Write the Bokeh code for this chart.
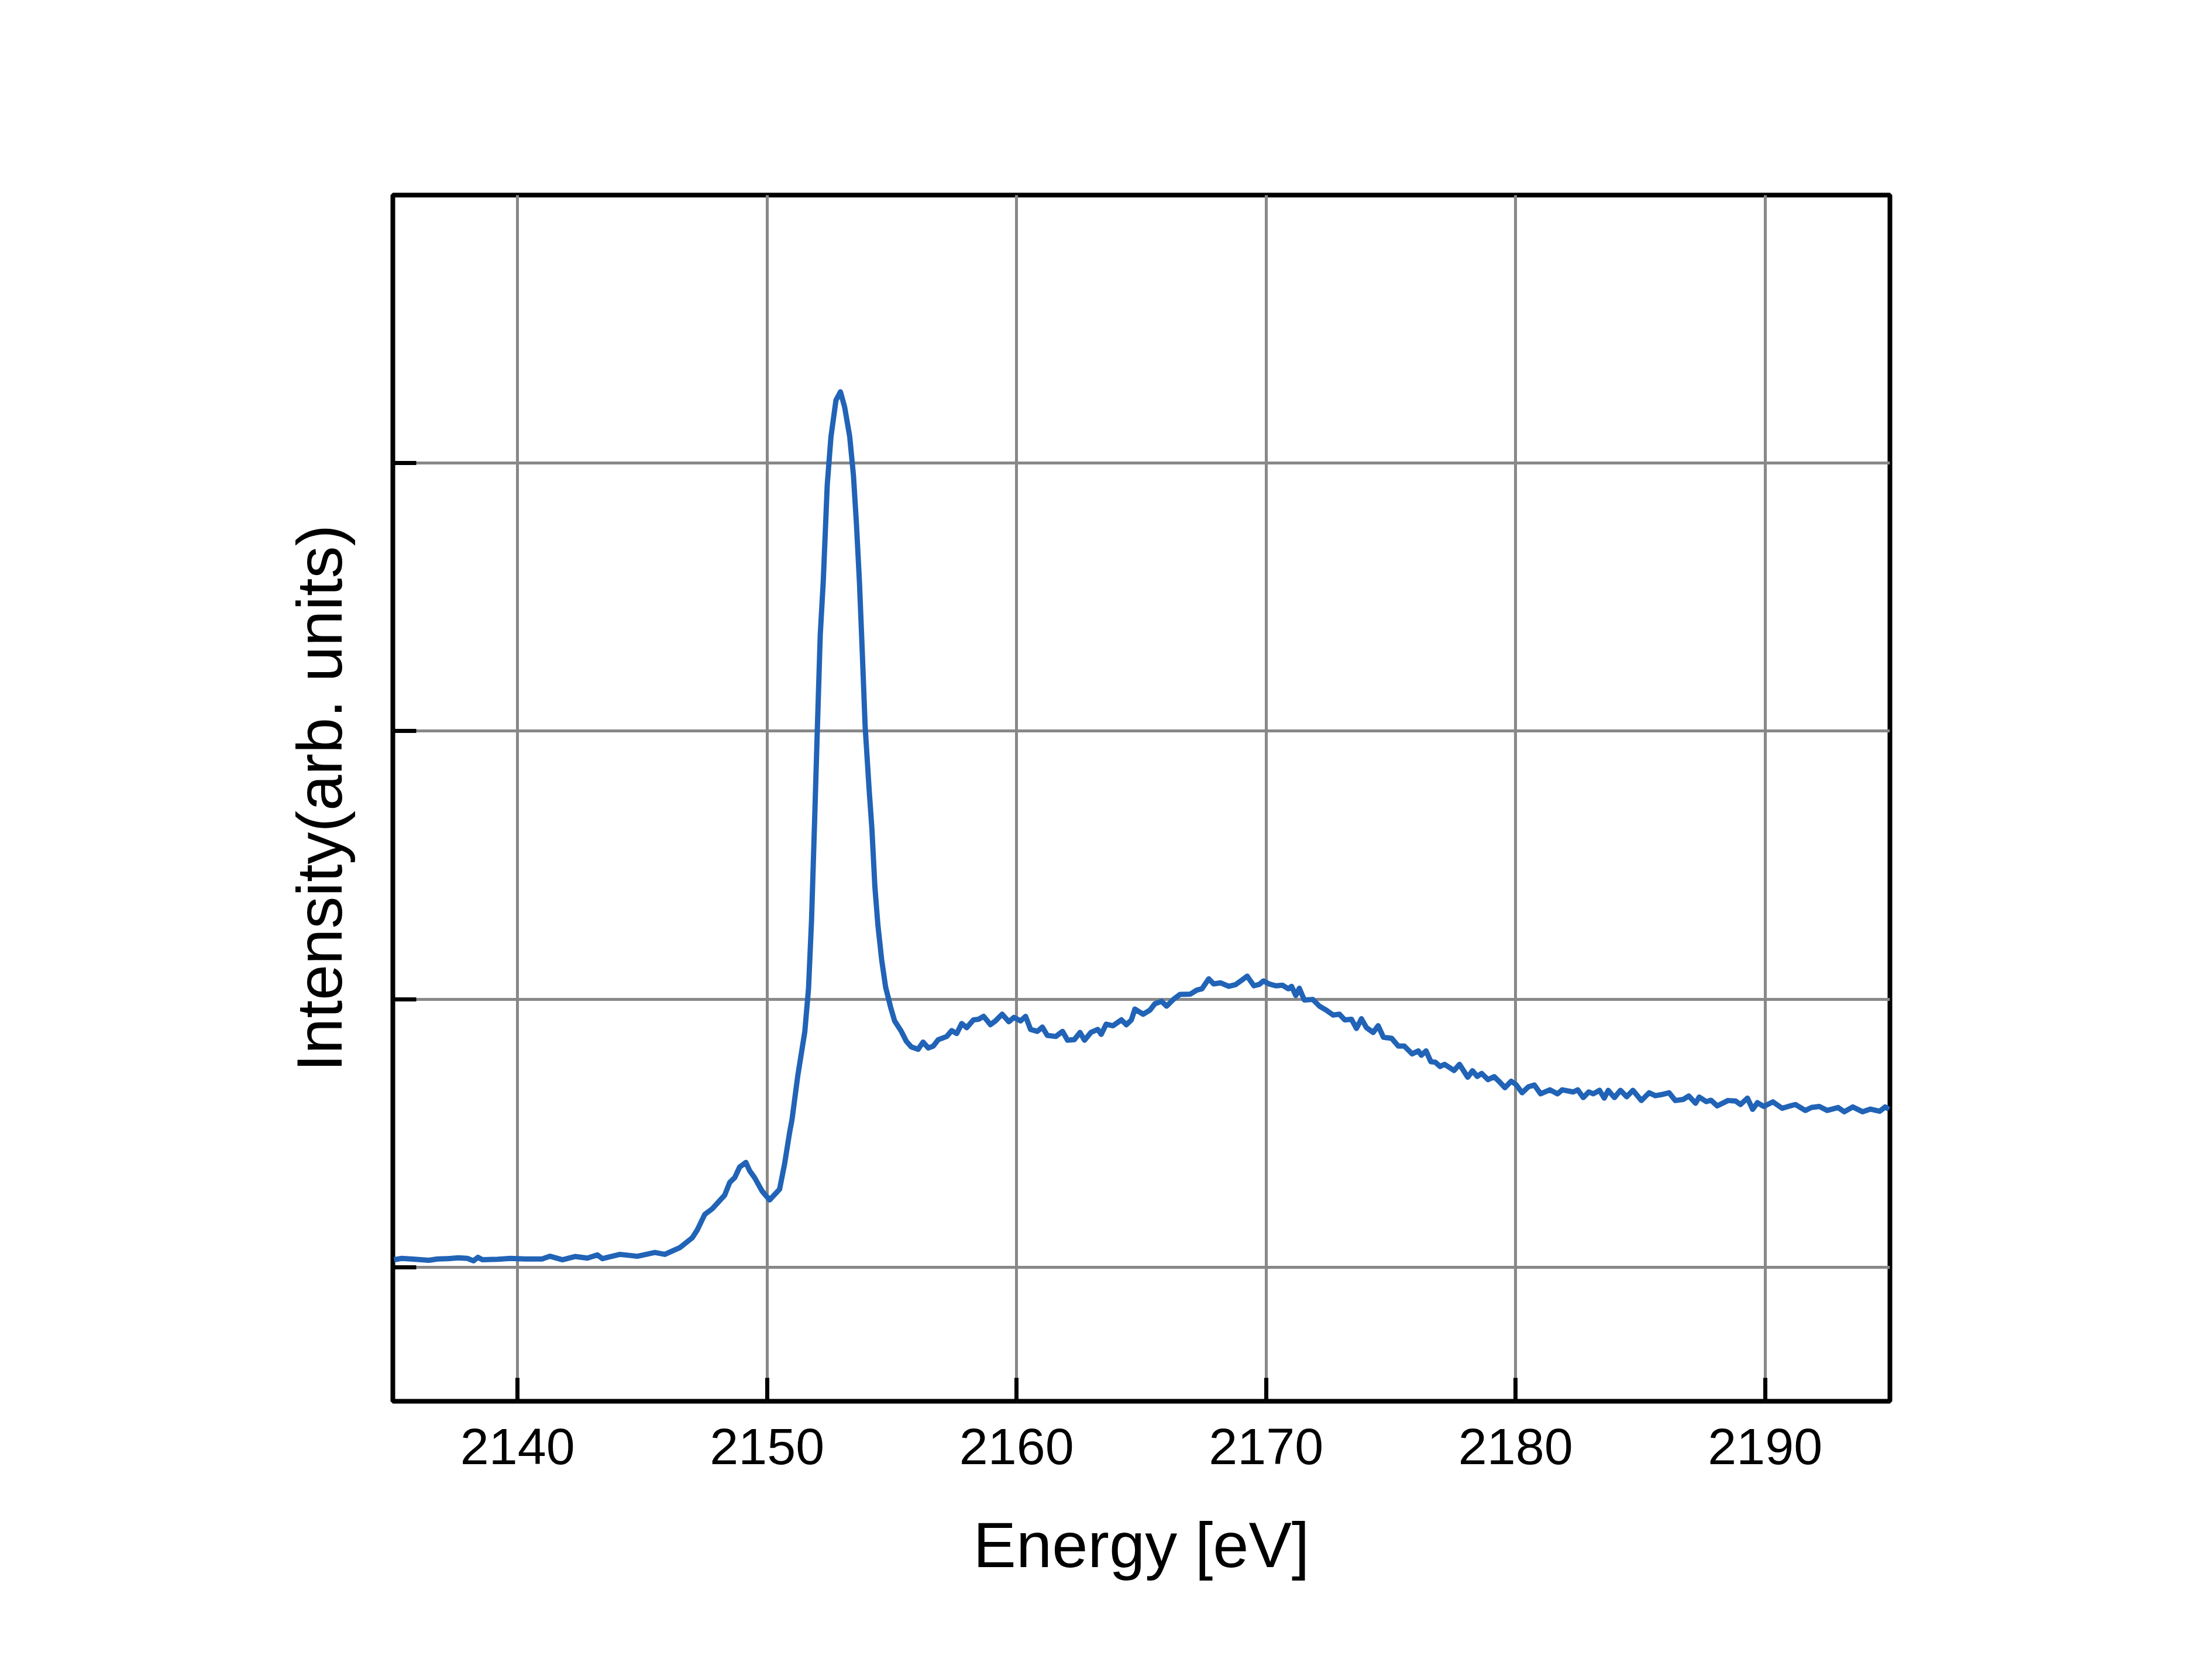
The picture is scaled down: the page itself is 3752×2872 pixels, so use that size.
from bokeh.plotting import figure
from bokeh.models import ColumnDataSource, Range1d, FixedTicker
from bokeh.embed import file_html
from bokeh.resources import INLINE

energy = [
    2135.05, 2135.36, 2135.9, 2136.44, 2136.79, 2137.2, 2137.63, 2137.99, 2138.23, 2138.41,
    2138.59, 2139.2, 2139.72, 2140.3, 2140.98, 2141.3, 2141.8, 2142.3, 2142.8, 2143.2,
    2143.4, 2144.1, 2144.8, 2145.5, 2145.9, 2146.5, 2147.0, 2147.2, 2147.5, 2147.8,
    2148.3, 2148.5, 2148.7, 2148.9, 2149.15, 2149.3, 2149.5, 2149.8, 2150.1, 2150.5,
    2150.7, 2150.9, 2151.0, 2151.23, 2151.51, 2151.66, 2151.78, 2151.90, 2152.01, 2152.13,
    2152.25, 2152.37, 2152.41, 2152.56, 2152.76, 2152.94, 2153.11, 2153.31, 2153.46, 2153.58,
    2153.70, 2153.81, 2153.93, 2154.09, 2154.20, 2154.32, 2154.44, 2154.59, 2154.75, 2154.95,
    2155.11, 2155.38, 2155.58, 2155.78, 2156.05, 2156.25, 2156.46, 2156.66, 2156.86, 2157.20,
    2157.40, 2157.60, 2157.80, 2158.00, 2158.27, 2158.47, 2158.68, 2158.95, 2159.15, 2159.42,
    2159.69, 2159.89, 2160.16, 2160.36, 2160.56, 2160.83, 2161.03, 2161.23, 2161.57, 2161.84,
    2162.04, 2162.31, 2162.54, 2162.72, 2162.98, 2163.25, 2163.39, 2163.59, 2163.86, 2164.20,
    2164.40, 2164.60, 2164.74, 2165.07, 2165.34, 2165.54, 2165.81, 2166.01, 2166.28, 2166.55,
    2166.96, 2167.22, 2167.43, 2167.70, 2167.90, 2168.17, 2168.50, 2168.77, 2169.04, 2169.24,
    2169.51, 2169.72, 2169.89, 2170.12, 2170.39, 2170.66, 2170.89, 2171.02, 2171.19, 2171.33,
    2171.53, 2171.87, 2172.14, 2172.41, 2172.68, 2172.94, 2173.15, 2173.42, 2173.62, 2173.82,
    2174.02, 2174.29, 2174.49, 2174.70, 2175.03, 2175.30, 2175.54, 2175.85, 2176.10, 2176.22,
    2176.41, 2176.60, 2176.78, 2176.97, 2177.15, 2177.53, 2177.75, 2178.08, 2178.27, 2178.46,
    2178.64, 2178.89, 2179.14, 2179.33, 2179.57, 2179.82, 2180.01, 2180.26, 2180.51, 2180.75,
    2181.00, 2181.37, 2181.68, 2181.87, 2182.31, 2182.49, 2182.71, 2182.93, 2183.11, 2183.36,
    2183.55, 2183.71, 2183.96, 2184.20, 2184.45, 2184.70, 2185.04, 2185.35, 2185.60, 2185.84,
    2186.15, 2186.40, 2186.71, 2186.94, 2187.21, 2187.36, 2187.64, 2187.83, 2188.08, 2188.51,
    2188.82, 2189.01, 2189.29, 2189.50, 2189.69, 2189.94, 2190.31, 2190.68, 2190.93, 2191.21,
    2191.61, 2191.86, 2192.17, 2192.48, 2192.92, 2193.17, 2193.51, 2193.91, 2194.22, 2194.59,
    2194.81, 2194.97,
]

intensity = [
    0.028, 0.033, 0.030, 0.026, 0.031, 0.032, 0.035, 0.033, 0.024, 0.037,
    0.028, 0.030, 0.033, 0.031, 0.031, 0.041, 0.028, 0.040, 0.034, 0.046,
    0.032, 0.048, 0.041, 0.055, 0.048, 0.073, 0.110, 0.139, 0.197, 0.218,
    0.269, 0.316, 0.334, 0.374, 0.391, 0.360, 0.334, 0.284, 0.251, 0.291,
    0.385, 0.502, 0.552, 0.715, 0.878, 1.040, 1.293, 1.654, 1.998, 2.360,
    2.558, 2.828, 2.919, 3.099, 3.235, 3.266, 3.208, 3.099, 2.955, 2.774,
    2.558, 2.305, 2.016, 1.781, 1.636, 1.419, 1.277, 1.148, 1.045, 0.970,
    0.919, 0.880, 0.843, 0.822, 0.813, 0.840, 0.818, 0.825, 0.849, 0.861,
    0.883, 0.872, 0.909, 0.894, 0.923, 0.925, 0.936, 0.905, 0.919, 0.944,
    0.916, 0.932, 0.919, 0.936, 0.887, 0.880, 0.896, 0.865, 0.861, 0.880,
    0.847, 0.849, 0.876, 0.847, 0.876, 0.887, 0.869, 0.907, 0.901, 0.923,
    0.905, 0.923, 0.963, 0.944, 0.959, 0.983, 0.992, 0.974, 0.999, 1.018,
    1.019, 1.034, 1.039, 1.076, 1.057, 1.061, 1.048, 1.054, 1.072, 1.086,
    1.050, 1.055, 1.068, 1.057, 1.050, 1.052, 1.039, 1.048, 1.014, 1.041,
    0.997, 0.999, 0.974, 0.959, 0.941, 0.944, 0.923, 0.925, 0.891, 0.927,
    0.894, 0.876, 0.901, 0.858, 0.854, 0.825, 0.825, 0.796, 0.807, 0.791,
    0.807, 0.767, 0.765, 0.749, 0.757, 0.734, 0.757, 0.709, 0.733, 0.712,
    0.723, 0.700, 0.711, 0.694, 0.670, 0.694, 0.682, 0.651, 0.673, 0.680,
    0.647, 0.662, 0.647, 0.662, 0.654, 0.662, 0.633, 0.654, 0.647, 0.660,
    0.631, 0.660, 0.633, 0.660, 0.636, 0.660, 0.622, 0.651, 0.640, 0.644,
    0.651, 0.622, 0.626, 0.639, 0.612, 0.635, 0.618, 0.623, 0.602, 0.622,
    0.620, 0.607, 0.631, 0.589, 0.614, 0.600, 0.617, 0.593, 0.600, 0.607,
    0.585, 0.596, 0.600, 0.585, 0.596, 0.580, 0.598, 0.580, 0.590, 0.582,
    0.598, 0.589,
]

x_ticks = [2140, 2150, 2160, 2170, 2180, 2190]
y_ticks = [0, 1, 2, 3]

FONT = "Liberation Sans"

p = figure(width=3736, height=2856, output_backend="svg", toolbar_location=None,
           x_range=Range1d(2135, 2195), y_range=Range1d(-0.5, 4.0),
           min_border_left=671, min_border_right=506, min_border_top=333,
           min_border_bottom=461)
p.background_fill_color = "white"
p.border_fill_color = "white"
p.outline_line_color = "black"
p.outline_line_width = 8

src = ColumnDataSource(data=dict(x=energy, y=intensity))
p.line("x", "y", source=src, line_color="#2163b6", line_width=9,
       line_join="round")

p.xaxis.ticker = FixedTicker(ticks=x_ticks)
p.yaxis.ticker = FixedTicker(ticks=y_ticks)
for ax in (p.xaxis, p.yaxis):
    ax.axis_line_color = None
    ax.major_tick_in = 40
    ax.major_tick_out = 0
    ax.major_tick_line_width = 7
    ax.major_tick_line_color = "black"
    ax.minor_tick_line_color = None
    ax.axis_label_text_font = FONT
    ax.axis_label_text_font_style = "normal"
    ax.axis_label_text_font_size = "110px"
    ax.axis_label_text_color = "black"
    ax.major_label_text_font = FONT
    ax.major_label_text_font_size = "88px"
    ax.major_label_text_color = "black"

p.xaxis.axis_label = "Energy [eV]"
p.xaxis.major_label_standoff = 47
p.xaxis.axis_label_standoff = 73

p.yaxis.axis_label = "Intensity(arb. units)"
p.yaxis.major_label_overrides = {t: "" for t in y_ticks}
p.yaxis.major_label_standoff = 0
p.yaxis.axis_label_standoff = 65

p.xgrid.ticker = FixedTicker(ticks=x_ticks)
p.ygrid.ticker = FixedTicker(ticks=y_ticks)
p.grid.grid_line_color = "#888888"
p.grid.grid_line_width = 5

open("out.html", "w").write(file_html(p, INLINE))
